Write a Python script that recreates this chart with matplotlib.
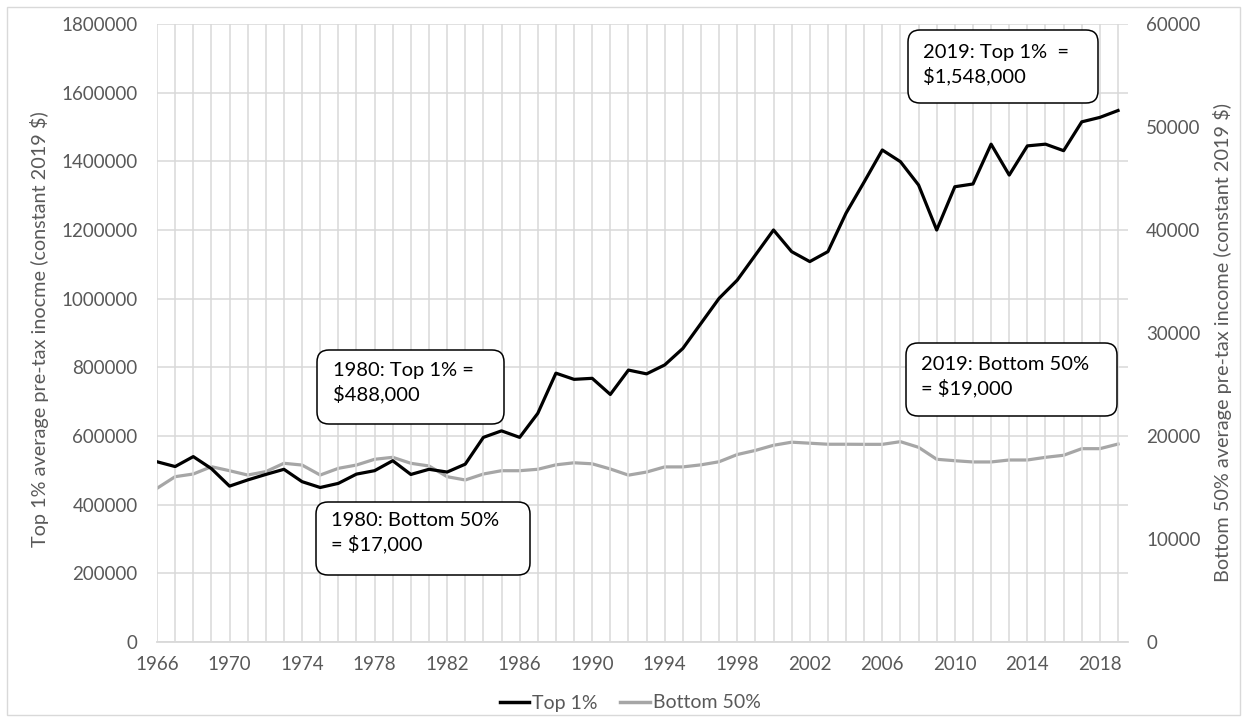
import matplotlib
matplotlib.use("Agg")
import matplotlib.pyplot as plt
from matplotlib.patches import FancyBboxPatch, Rectangle
from matplotlib.transforms import IdentityTransform
from matplotlib.lines import Line2D

years = list(range(1966, 2020))
top1 = [525000, 511000, 540000, 505000, 454000, 472000, 488000, 503000, 467000, 450000,
        462000, 489000, 499000, 528000, 488000, 503000, 495000, 518000, 596000, 615000,
        596000, 666000, 783000, 765000, 768000, 721000, 792000, 781000, 807000, 855000,
        928000, 1001000, 1054000, 1127000, 1200000, 1137000, 1108000, 1137000, 1249000, 1340000,
        1433000, 1399000, 1331000, 1200000, 1326000, 1334000, 1450000, 1360000, 1445000, 1450000,
        1431000, 1515000, 1528000, 1548000]
bottom50 = [14920, 16050, 16310, 17020, 16630, 16210, 16540, 17350, 17180, 16210,
            16860, 17180, 17740, 17930, 17350, 17090, 16050, 15730, 16310, 16630,
            16630, 16770, 17200, 17400, 17300, 16800, 16200, 16500, 17000, 17000,
            17200, 17500, 18200, 18600, 19100, 19400, 19300, 19200, 19200, 19190,
            19190, 19450, 18900, 17740, 17600, 17480, 17480, 17670, 17670, 17930,
            18130, 18770, 18770, 19220]
left_ticks = list(range(0, 1800001, 200000))
right_ticks = list(range(0, 60001, 10000))
x_tick_years = list(range(1966, 2019, 4))
series_names = ["Top 1%", "Bottom 50%"]
left_label = "Top 1% average pre-tax inocme (constant 2019 $)"
right_label = "Bottom 50% average pre-tax income (constant 2019 $)"
notes = [
    ("1980: Top 1% =", "$488,000"),
    ("1980: Bottom 50%", "= $17,000"),
    ("2019: Top 1%  =", "$1,548,000"),
    ("2019: Bottom 50%", "= $19,000"),
]

W, H = 1248, 723
FONT = ["Lato", "DejaVu Sans"]
plt.rcParams["font.family"] = FONT
TXT = "#595959"
GRID = "#d9d9d9"

fig = plt.figure(figsize=(W / 100, H / 100), dpi=100)
fig.patch.set_facecolor("white")

def fx(x):
    return x / W

def fy(y):
    return 1 - y / H

# outer chart border
fig.patches.append(Rectangle((fx(7), fy(715)), fx(1240) - fx(7), fy(7) - fy(715),
                             transform=fig.transFigure, fill=False, edgecolor=GRID, lw=1))

ax = fig.add_axes([fx(157), fy(642), fx(1128) - fx(157), fy(24) - fy(642)])
ax2 = ax.twinx()

ax.set_xlim(1966, 2019.55)
ax.set_ylim(0, 1800000)
ax2.set_ylim(0, 60000)

ax.set_xticks(years, minor=True)
ax.set_xticks(x_tick_years)
ax.set_xticklabels([str(y) for y in x_tick_years])
ax.set_yticks(left_ticks)
ax.set_yticklabels([str(v) for v in left_ticks])
ax2.set_yticks(right_ticks)
ax2.set_yticklabels([str(v) for v in right_ticks])

ax.grid(True, which="both", axis="x", color=GRID, lw=1.1)
ax.grid(True, which="major", axis="y", color=GRID, lw=1.1)
ax.set_axisbelow(True)
for a in (ax, ax2):
    for s in a.spines.values():
        s.set_visible(False)
ax.spines["bottom"].set_visible(True)
ax.spines["bottom"].set_color(GRID)
ax.spines["bottom"].set_linewidth(1.3)

ax.tick_params(axis="x", which="both", length=0, pad=10, labelsize=13.5, labelcolor=TXT)
ax.tick_params(axis="y", length=0, pad=14, labelsize=13.5, labelcolor=TXT)
ax2.tick_params(axis="y", length=0, pad=13, labelsize=13.5, labelcolor=TXT)

ax2.plot(years, bottom50, color="#a6a6a6", lw=2.3, solid_joinstyle="round", zorder=3)
ax.plot(years, top1, color="black", lw=2.3, solid_joinstyle="round", zorder=4)
ax.set_zorder(ax2.get_zorder() + 1)
ax.patch.set_visible(False)

fig.text(fx(40), fy(329), left_label, rotation=90, ha="center", va="center",
         fontsize=14.3, color=TXT)
fig.text(fx(1222), fy(342), right_label, rotation=90, ha="center", va="center",
         fontsize=14.3, color=TXT)

# annotation boxes (pixel coords from top-left)
boxes = [
    (317, 350, 504, 424, 333, 376),
    (316, 502, 530, 575, 331, 526),
    (908, 30, 1098, 103, 923, 58),
    (906, 343, 1117, 416, 921, 370),
]
r = 12
for (x0, y0, x1, y1, tx, ty), (l1, l2) in zip(boxes, notes):
    p = FancyBboxPatch((x0 + r, H - y1 + r), (x1 - x0) - 2 * r, (y1 - y0) - 2 * r,
                       boxstyle=f"round,pad={r}", transform=IdentityTransform(),
                       facecolor="white", edgecolor="black", lw=1.1, zorder=10)
    fig.patches.append(p)
    fig.text(fx(tx), fy(ty), l1, ha="left", va="baseline", fontsize=14.5, color="black", zorder=11)
    fig.text(fx(tx), fy(ty + 24), l2, ha="left", va="baseline", fontsize=14.5, color="black", zorder=11)

handles = [Line2D([], [], color="black", lw=2.5), Line2D([], [], color="#a6a6a6", lw=2.5)]
leg = fig.legend(handles, series_names, loc="center", bbox_to_anchor=(fx(630), fy(703)), ncol=2,
                 frameon=False, fontsize=14, handlelength=1.5, handletextpad=0.15,
                 columnspacing=1.2, labelcolor=TXT)

fig.savefig("out.png", dpi=100, facecolor="white")
